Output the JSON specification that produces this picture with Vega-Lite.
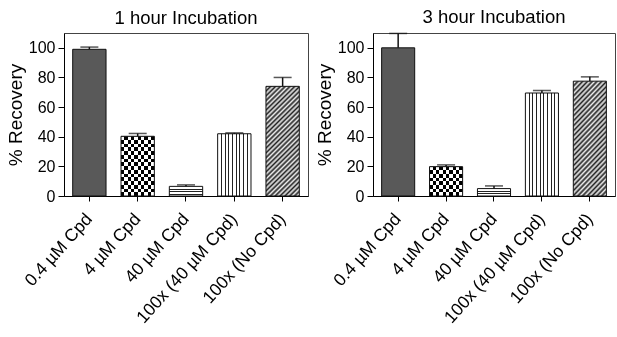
{
  "$schema": "https://vega.github.io/schema/vega-lite/v6.json",
  "padding": {"left": 5, "top": 7, "right": 0, "bottom": 0},
  "spacing": 5,
  "config": {
    "view": {"stroke": "#444"},
    "font": "Liberation Sans",
    "title": {"font": "Liberation Sans", "fontSize": 18.5, "fontWeight": "normal", "offset": 6, "color": "black"},
    "axis": {"labelFont": "Liberation Sans", "titleFont": "Liberation Sans", "labelColor": "black", "titleColor": "black", "domainColor": "black", "tickColor": "black", "grid": false, "titleFontWeight": "normal"},
    "axisY": {"values": [0, 20, 40, 60, 80, 100], "labelFontSize": 16, "titleFontSize": 19, "tickSize": 6, "labelPadding": 3, "titlePadding": 3},
    "axisX": {"labelAngle": -48, "labelFontSize": 17.5, "tickSize": 5, "labelPadding": 15}
  },
  "hconcat": [
    {
      "width": 244,
      "height": 163,
      "title": "1 hour Incubation",
      "data": {"values": [
        {"cat": "0.4 µM Cpd", "v": 99, "hi": 100.5},
        {"cat": "4 µM Cpd", "v": 40.3, "hi": 42.2},
        {"cat": "40 µM Cpd", "v": 6.5, "hi": 7.5},
        {"cat": "100x (40 µM Cpd)", "v": 42, "hi": 42.6},
        {"cat": "100x (No Cpd)", "v": 74, "hi": 80}
      ]},
      "encoding": {
        "x": {"field": "cat", "type": "nominal", "sort": null, "title": null,
              "scale": {"domain": ["0.4 µM Cpd", "4 µM Cpd", "40 µM Cpd", "100x (40 µM Cpd)", "100x (No Cpd)"], "paddingInner": 0.31, "paddingOuter": 0.18}},
        "y": {"field": "v", "type": "quantitative", "title": "% Recovery", "scale": {"domain": [0, 110], "nice": false}}
      },
      "layer": [
        {"transform": [{"filter": "datum.cat == '0.4 µM Cpd'"}], "mark": {"type": "bar", "fill": "#595959"}},
        {"transform": [{"filter": "datum.cat == '4 µM Cpd'"}], "mark": {"type": "bar", "fill": {"gradient": "linear", "x1": 0, "y1": 0, "x2": 1, "y2": 0, "stops": [
          {"offset": 0, "color": "black"}, {"offset": 0.1, "color": "black"}, {"offset": 0.1, "color": "white"}, {"offset": 0.2, "color": "white"},
          {"offset": 0.2, "color": "black"}, {"offset": 0.3, "color": "black"}, {"offset": 0.3, "color": "white"}, {"offset": 0.4, "color": "white"},
          {"offset": 0.4, "color": "black"}, {"offset": 0.5, "color": "black"}, {"offset": 0.5, "color": "white"}, {"offset": 0.6, "color": "white"},
          {"offset": 0.6, "color": "black"}, {"offset": 0.7, "color": "black"}, {"offset": 0.7, "color": "white"}, {"offset": 0.8, "color": "white"},
          {"offset": 0.8, "color": "black"}, {"offset": 0.9, "color": "black"}, {"offset": 0.9, "color": "white"}, {"offset": 1, "color": "white"}]}}},
        {"transform": [{"filter": "datum.cat == '4 µM Cpd'"}], "mark": {"type": "bar", "blend": "difference", "fill": {"gradient": "linear", "x1": 0, "y1": 0, "x2": 0, "y2": 1, "stops": [
          {"offset": 0, "color": "white"}, {"offset": 0.0625, "color": "white"}, {"offset": 0.0625, "color": "black"}, {"offset": 0.125, "color": "black"},
          {"offset": 0.125, "color": "white"}, {"offset": 0.1875, "color": "white"}, {"offset": 0.1875, "color": "black"}, {"offset": 0.25, "color": "black"},
          {"offset": 0.25, "color": "white"}, {"offset": 0.3125, "color": "white"}, {"offset": 0.3125, "color": "black"}, {"offset": 0.375, "color": "black"},
          {"offset": 0.375, "color": "white"}, {"offset": 0.4375, "color": "white"}, {"offset": 0.4375, "color": "black"}, {"offset": 0.5, "color": "black"},
          {"offset": 0.5, "color": "white"}, {"offset": 0.5625, "color": "white"}, {"offset": 0.5625, "color": "black"}, {"offset": 0.625, "color": "black"},
          {"offset": 0.625, "color": "white"}, {"offset": 0.6875, "color": "white"}, {"offset": 0.6875, "color": "black"}, {"offset": 0.75, "color": "black"},
          {"offset": 0.75, "color": "white"}, {"offset": 0.8125, "color": "white"}, {"offset": 0.8125, "color": "black"}, {"offset": 0.875, "color": "black"},
          {"offset": 0.875, "color": "white"}, {"offset": 0.9375, "color": "white"}, {"offset": 0.9375, "color": "black"}, {"offset": 1, "color": "black"}]}}},
        {"transform": [{"filter": "datum.cat == '40 µM Cpd'"}], "mark": {"type": "bar", "fill": {"gradient": "linear", "x1": 0, "y1": 0, "x2": 0, "y2": 1, "stops": [
          {"offset": 0, "color": "white"}, {"offset": 0.25, "color": "white"}, {"offset": 0.25, "color": "#222"}, {"offset": 0.35, "color": "#222"},
          {"offset": 0.35, "color": "white"}, {"offset": 0.5, "color": "white"}, {"offset": 0.5, "color": "#222"}, {"offset": 0.6, "color": "#222"},
          {"offset": 0.6, "color": "white"}, {"offset": 0.75, "color": "white"}, {"offset": 0.75, "color": "#222"}, {"offset": 0.85, "color": "#222"},
          {"offset": 0.85, "color": "white"}, {"offset": 1, "color": "white"}]}}},
        {"transform": [{"filter": "datum.cat == '100x (40 µM Cpd)'"}], "mark": {"type": "bar", "fill": {"gradient": "linear", "x1": 0, "y1": 0, "x2": 1, "y2": 0, "stops": [
          {"offset": 0, "color": "white"}, {"offset": 0.096, "color": "white"}, {"offset": 0.096, "color": "#222"}, {"offset": 0.126, "color": "#222"},
          {"offset": 0.126, "color": "white"}, {"offset": 0.207, "color": "white"}, {"offset": 0.207, "color": "#222"}, {"offset": 0.237, "color": "#222"},
          {"offset": 0.237, "color": "white"}, {"offset": 0.318, "color": "white"}, {"offset": 0.318, "color": "#222"}, {"offset": 0.348, "color": "#222"},
          {"offset": 0.348, "color": "white"}, {"offset": 0.429, "color": "white"}, {"offset": 0.429, "color": "#222"}, {"offset": 0.459, "color": "#222"},
          {"offset": 0.459, "color": "white"}, {"offset": 0.541, "color": "white"}, {"offset": 0.541, "color": "#222"}, {"offset": 0.571, "color": "#222"},
          {"offset": 0.571, "color": "white"}, {"offset": 0.652, "color": "white"}, {"offset": 0.652, "color": "#222"}, {"offset": 0.682, "color": "#222"},
          {"offset": 0.682, "color": "white"}, {"offset": 0.763, "color": "white"}, {"offset": 0.763, "color": "#222"}, {"offset": 0.793, "color": "#222"},
          {"offset": 0.793, "color": "white"}, {"offset": 0.874, "color": "white"}, {"offset": 0.874, "color": "#222"}, {"offset": 0.904, "color": "#222"},
          {"offset": 0.904, "color": "white"}, {"offset": 1, "color": "white"}]}}},
        {"transform": [{"filter": "datum.cat == '100x (No Cpd)'"}], "mark": {"type": "bar", "fill": {"gradient": "linear", "x1": 0, "y1": 0, "x2": 0.358, "y2": 1.193, "stops": [
          {"offset": 0, "color": "#222"}, {"offset": 0.0167, "color": "#eee"}, {"offset": 0.0333, "color": "#222"}, {"offset": 0.05, "color": "#eee"},
          {"offset": 0.0667, "color": "#222"}, {"offset": 0.0833, "color": "#eee"}, {"offset": 0.1, "color": "#222"}, {"offset": 0.1167, "color": "#eee"},
          {"offset": 0.1333, "color": "#222"}, {"offset": 0.15, "color": "#eee"}, {"offset": 0.1667, "color": "#222"}, {"offset": 0.1833, "color": "#eee"},
          {"offset": 0.2, "color": "#222"}, {"offset": 0.2167, "color": "#eee"}, {"offset": 0.2333, "color": "#222"}, {"offset": 0.25, "color": "#eee"},
          {"offset": 0.2667, "color": "#222"}, {"offset": 0.2833, "color": "#eee"}, {"offset": 0.3, "color": "#222"}, {"offset": 0.3167, "color": "#eee"},
          {"offset": 0.3333, "color": "#222"}, {"offset": 0.35, "color": "#eee"}, {"offset": 0.3667, "color": "#222"}, {"offset": 0.3833, "color": "#eee"},
          {"offset": 0.4, "color": "#222"}, {"offset": 0.4167, "color": "#eee"}, {"offset": 0.4333, "color": "#222"}, {"offset": 0.45, "color": "#eee"},
          {"offset": 0.4667, "color": "#222"}, {"offset": 0.4833, "color": "#eee"}, {"offset": 0.5, "color": "#222"}, {"offset": 0.5167, "color": "#eee"},
          {"offset": 0.5333, "color": "#222"}, {"offset": 0.55, "color": "#eee"}, {"offset": 0.5667, "color": "#222"}, {"offset": 0.5833, "color": "#eee"},
          {"offset": 0.6, "color": "#222"}, {"offset": 0.6167, "color": "#eee"}, {"offset": 0.6333, "color": "#222"}, {"offset": 0.65, "color": "#eee"},
          {"offset": 0.6667, "color": "#222"}, {"offset": 0.6833, "color": "#eee"}, {"offset": 0.7, "color": "#222"}, {"offset": 0.7167, "color": "#eee"},
          {"offset": 0.7333, "color": "#222"}, {"offset": 0.75, "color": "#eee"}, {"offset": 0.7667, "color": "#222"}, {"offset": 0.7833, "color": "#eee"},
          {"offset": 0.8, "color": "#222"}, {"offset": 0.8167, "color": "#eee"}, {"offset": 0.8333, "color": "#222"}, {"offset": 0.85, "color": "#eee"},
          {"offset": 0.8667, "color": "#222"}, {"offset": 0.8833, "color": "#eee"}, {"offset": 0.9, "color": "#222"}, {"offset": 0.9167, "color": "#eee"},
          {"offset": 0.9333, "color": "#222"}, {"offset": 0.95, "color": "#eee"}, {"offset": 0.9667, "color": "#222"}, {"offset": 0.9833, "color": "#eee"},
          {"offset": 1, "color": "#222"}]}}},
        {"mark": {"type": "bar", "fill": "transparent", "stroke": "#111", "strokeWidth": 1}},
        {"mark": {"type": "rule", "color": "#111", "strokeWidth": 1.5}, "encoding": {"y2": {"field": "hi"}}},
        {"mark": {"type": "tick", "color": "#111", "thickness": 1.5, "size": 18}, "encoding": {"y": {"field": "hi", "type": "quantitative", "title": "% Recovery"}}}
      ]
    },
    {
      "width": 242,
      "height": 163,
      "title": "3 hour Incubation",
      "data": {"values": [
        {"cat": "0.4 µM Cpd", "v": 100, "hi": 109.7},
        {"cat": "4 µM Cpd", "v": 19.8, "hi": 21},
        {"cat": "40 µM Cpd", "v": 5, "hi": 6.8},
        {"cat": "100x (40 µM Cpd)", "v": 69.5, "hi": 71.2},
        {"cat": "100x (No Cpd)", "v": 77.5, "hi": 80.4}
      ]},
      "encoding": {
        "x": {"field": "cat", "type": "nominal", "sort": null, "title": null,
              "scale": {"domain": ["0.4 µM Cpd", "4 µM Cpd", "40 µM Cpd", "100x (40 µM Cpd)", "100x (No Cpd)"], "paddingInner": 0.31, "paddingOuter": 0.18}},
        "y": {"field": "v", "type": "quantitative", "title": "% Recovery", "scale": {"domain": [0, 110], "nice": false}}
      },
      "layer": [
        {"transform": [{"filter": "datum.cat == '0.4 µM Cpd'"}], "mark": {"type": "bar", "fill": "#595959"}},
        {"transform": [{"filter": "datum.cat == '4 µM Cpd'"}], "mark": {"type": "bar", "fill": {"gradient": "linear", "x1": 0, "y1": 0, "x2": 1, "y2": 0, "stops": [
          {"offset": 0, "color": "black"}, {"offset": 0.1, "color": "black"}, {"offset": 0.1, "color": "white"}, {"offset": 0.2, "color": "white"},
          {"offset": 0.2, "color": "black"}, {"offset": 0.3, "color": "black"}, {"offset": 0.3, "color": "white"}, {"offset": 0.4, "color": "white"},
          {"offset": 0.4, "color": "black"}, {"offset": 0.5, "color": "black"}, {"offset": 0.5, "color": "white"}, {"offset": 0.6, "color": "white"},
          {"offset": 0.6, "color": "black"}, {"offset": 0.7, "color": "black"}, {"offset": 0.7, "color": "white"}, {"offset": 0.8, "color": "white"},
          {"offset": 0.8, "color": "black"}, {"offset": 0.9, "color": "black"}, {"offset": 0.9, "color": "white"}, {"offset": 1, "color": "white"}]}}},
        {"transform": [{"filter": "datum.cat == '4 µM Cpd'"}], "mark": {"type": "bar", "blend": "difference", "fill": {"gradient": "linear", "x1": 0, "y1": 0, "x2": 0, "y2": 1, "stops": [
          {"offset": 0, "color": "white"}, {"offset": 0.125, "color": "white"}, {"offset": 0.125, "color": "black"}, {"offset": 0.25, "color": "black"},
          {"offset": 0.25, "color": "white"}, {"offset": 0.375, "color": "white"}, {"offset": 0.375, "color": "black"}, {"offset": 0.5, "color": "black"},
          {"offset": 0.5, "color": "white"}, {"offset": 0.625, "color": "white"}, {"offset": 0.625, "color": "black"}, {"offset": 0.75, "color": "black"},
          {"offset": 0.75, "color": "white"}, {"offset": 0.875, "color": "white"}, {"offset": 0.875, "color": "black"}, {"offset": 1, "color": "black"}]}}},
        {"transform": [{"filter": "datum.cat == '40 µM Cpd'"}], "mark": {"type": "bar", "fill": {"gradient": "linear", "x1": 0, "y1": 0, "x2": 0, "y2": 1, "stops": [
          {"offset": 0, "color": "white"}, {"offset": 0.28, "color": "white"}, {"offset": 0.28, "color": "#222"}, {"offset": 0.42, "color": "#222"},
          {"offset": 0.42, "color": "white"}, {"offset": 0.63, "color": "white"}, {"offset": 0.63, "color": "#222"}, {"offset": 0.77, "color": "#222"},
          {"offset": 0.77, "color": "white"}, {"offset": 1, "color": "white"}]}}},
        {"transform": [{"filter": "datum.cat == '100x (40 µM Cpd)'"}], "mark": {"type": "bar", "fill": {"gradient": "linear", "x1": 0, "y1": 0, "x2": 1, "y2": 0, "stops": [
          {"offset": 0, "color": "white"}, {"offset": 0.096, "color": "white"}, {"offset": 0.096, "color": "#222"}, {"offset": 0.126, "color": "#222"},
          {"offset": 0.126, "color": "white"}, {"offset": 0.207, "color": "white"}, {"offset": 0.207, "color": "#222"}, {"offset": 0.237, "color": "#222"},
          {"offset": 0.237, "color": "white"}, {"offset": 0.318, "color": "white"}, {"offset": 0.318, "color": "#222"}, {"offset": 0.348, "color": "#222"},
          {"offset": 0.348, "color": "white"}, {"offset": 0.429, "color": "white"}, {"offset": 0.429, "color": "#222"}, {"offset": 0.459, "color": "#222"},
          {"offset": 0.459, "color": "white"}, {"offset": 0.541, "color": "white"}, {"offset": 0.541, "color": "#222"}, {"offset": 0.571, "color": "#222"},
          {"offset": 0.571, "color": "white"}, {"offset": 0.652, "color": "white"}, {"offset": 0.652, "color": "#222"}, {"offset": 0.682, "color": "#222"},
          {"offset": 0.682, "color": "white"}, {"offset": 0.763, "color": "white"}, {"offset": 0.763, "color": "#222"}, {"offset": 0.793, "color": "#222"},
          {"offset": 0.793, "color": "white"}, {"offset": 0.874, "color": "white"}, {"offset": 0.874, "color": "#222"}, {"offset": 0.904, "color": "#222"},
          {"offset": 0.904, "color": "white"}, {"offset": 1, "color": "white"}]}}},
        {"transform": [{"filter": "datum.cat == '100x (No Cpd)'"}], "mark": {"type": "bar", "fill": {"gradient": "linear", "x1": 0, "y1": 0, "x2": 0.358, "y2": 1.193, "stops": [
          {"offset": 0, "color": "#222"}, {"offset": 0.0167, "color": "#eee"}, {"offset": 0.0333, "color": "#222"}, {"offset": 0.05, "color": "#eee"},
          {"offset": 0.0667, "color": "#222"}, {"offset": 0.0833, "color": "#eee"}, {"offset": 0.1, "color": "#222"}, {"offset": 0.1167, "color": "#eee"},
          {"offset": 0.1333, "color": "#222"}, {"offset": 0.15, "color": "#eee"}, {"offset": 0.1667, "color": "#222"}, {"offset": 0.1833, "color": "#eee"},
          {"offset": 0.2, "color": "#222"}, {"offset": 0.2167, "color": "#eee"}, {"offset": 0.2333, "color": "#222"}, {"offset": 0.25, "color": "#eee"},
          {"offset": 0.2667, "color": "#222"}, {"offset": 0.2833, "color": "#eee"}, {"offset": 0.3, "color": "#222"}, {"offset": 0.3167, "color": "#eee"},
          {"offset": 0.3333, "color": "#222"}, {"offset": 0.35, "color": "#eee"}, {"offset": 0.3667, "color": "#222"}, {"offset": 0.3833, "color": "#eee"},
          {"offset": 0.4, "color": "#222"}, {"offset": 0.4167, "color": "#eee"}, {"offset": 0.4333, "color": "#222"}, {"offset": 0.45, "color": "#eee"},
          {"offset": 0.4667, "color": "#222"}, {"offset": 0.4833, "color": "#eee"}, {"offset": 0.5, "color": "#222"}, {"offset": 0.5167, "color": "#eee"},
          {"offset": 0.5333, "color": "#222"}, {"offset": 0.55, "color": "#eee"}, {"offset": 0.5667, "color": "#222"}, {"offset": 0.5833, "color": "#eee"},
          {"offset": 0.6, "color": "#222"}, {"offset": 0.6167, "color": "#eee"}, {"offset": 0.6333, "color": "#222"}, {"offset": 0.65, "color": "#eee"},
          {"offset": 0.6667, "color": "#222"}, {"offset": 0.6833, "color": "#eee"}, {"offset": 0.7, "color": "#222"}, {"offset": 0.7167, "color": "#eee"},
          {"offset": 0.7333, "color": "#222"}, {"offset": 0.75, "color": "#eee"}, {"offset": 0.7667, "color": "#222"}, {"offset": 0.7833, "color": "#eee"},
          {"offset": 0.8, "color": "#222"}, {"offset": 0.8167, "color": "#eee"}, {"offset": 0.8333, "color": "#222"}, {"offset": 0.85, "color": "#eee"},
          {"offset": 0.8667, "color": "#222"}, {"offset": 0.8833, "color": "#eee"}, {"offset": 0.9, "color": "#222"}, {"offset": 0.9167, "color": "#eee"},
          {"offset": 0.9333, "color": "#222"}, {"offset": 0.95, "color": "#eee"}, {"offset": 0.9667, "color": "#222"}, {"offset": 0.9833, "color": "#eee"},
          {"offset": 1, "color": "#222"}]}}},
        {"mark": {"type": "bar", "fill": "transparent", "stroke": "#111", "strokeWidth": 1}},
        {"mark": {"type": "rule", "color": "#111", "strokeWidth": 1.5}, "encoding": {"y2": {"field": "hi"}}},
        {"mark": {"type": "tick", "color": "#111", "thickness": 1.5, "size": 18}, "encoding": {"y": {"field": "hi", "type": "quantitative", "title": "% Recovery"}}}
      ]
    }
  ]
}
